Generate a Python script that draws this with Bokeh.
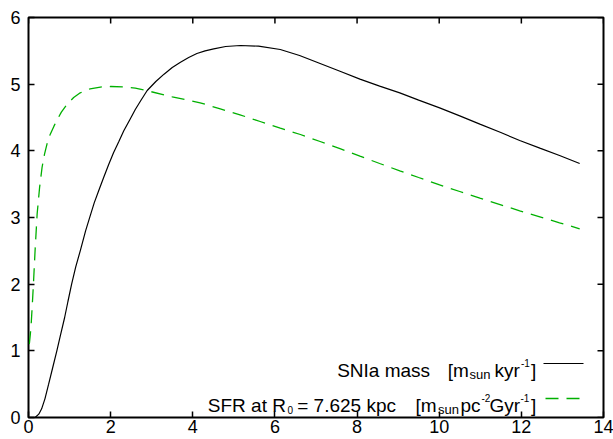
from bokeh.plotting import figure
from bokeh.models import Range1d, LinearAxis, FixedTicker
from bokeh.core.properties import value
from bokeh.embed import file_html
from bokeh.resources import INLINE

# ---------------- data ----------------
snia_x = [0.16, 0.25, 0.32, 0.40, 0.49, 0.59, 0.69, 0.78, 0.88, 0.96, 1.05, 1.15, 1.26, 1.39,
          1.50, 1.60, 1.72, 1.83, 1.95, 2.07, 2.20, 2.32, 2.46, 2.60, 2.75, 2.89, 3.10,
          3.30, 3.50, 3.70, 3.90, 4.10, 4.30, 4.51, 4.80, 5.16, 5.60, 6.13, 6.60,
          7.10, 7.60, 8.07, 8.55, 9.04, 9.50, 10.01, 10.50, 10.99, 11.50, 11.96,
          12.45, 12.93, 13.42]
snia_y = [0.00, 0.05, 0.13, 0.28, 0.50, 0.75, 1.00, 1.24, 1.50, 1.74, 2.00, 2.26, 2.50, 2.80,
          3.02, 3.22, 3.42, 3.60, 3.79, 3.97, 4.14, 4.30, 4.46, 4.62, 4.77, 4.905, 5.04,
          5.15, 5.25, 5.33, 5.40, 5.46, 5.50, 5.53, 5.565, 5.58, 5.57, 5.52, 5.43,
          5.31, 5.19, 5.075, 4.97, 4.87, 4.76, 4.645, 4.525, 4.40, 4.275, 4.155,
          4.04, 3.93, 3.81]

sfr_x = [0.02, 0.045, 0.07, 0.095, 0.12, 0.16, 0.21, 0.27, 0.33, 0.39, 0.45, 0.53, 0.62,
         0.71, 0.80, 0.94, 1.10, 1.26, 1.50, 1.80, 2.00, 2.30, 2.60, 2.90, 3.50, 4.18,
         4.67, 5.15, 5.64, 6.13, 6.62, 7.10, 7.60, 8.07, 8.55, 9.04, 9.50, 10.01, 10.50,
         10.99, 11.50, 11.96, 12.45, 12.93, 13.42]
sfr_y = [1.10, 1.25, 1.45, 1.72, 2.00, 2.50, 3.05, 3.45, 3.75, 3.95, 4.10, 4.25, 4.37,
         4.48, 4.58, 4.70, 4.80, 4.87, 4.93, 4.96, 4.965, 4.96, 4.94, 4.90, 4.81, 4.72,
         4.63, 4.54, 4.44, 4.34, 4.245, 4.14, 4.03, 3.92, 3.81, 3.70, 3.60, 3.49, 3.39,
         3.29, 3.19, 3.10, 3.01, 2.92, 2.83]

x_ticks = [0, 2, 4, 6, 8, 10, 12, 14]
y_ticks = [0, 1, 2, 3, 4, 5, 6]

# ---------------- layout ----------------
FONT = "Liberation Sans"
X_MAX, Y_MAX = 14, 6
FL, FB = 28, 417           # frame left / bottom in page px
FW, FH = 575, 400          # frame size in px
TICK = 6                   # tick length in px

p = figure(width=613, height=439,
           x_range=Range1d(0, X_MAX), y_range=Range1d(0, Y_MAX),
           output_backend="svg", toolbar_location=None,
           min_border_left=28, min_border_right=10, min_border_top=17, min_border_bottom=22,
           x_axis_location=None, y_axis_location=None)
p.xgrid.visible = False
p.ygrid.visible = False
p.outline_line_color = "black"
p.outline_line_width = 2
p.background_fill_color = "white"
p.border_fill_color = "white"


def style_axis(ax, ticks, standoff):
    ax.ticker = FixedTicker(ticks=ticks)
    ax.axis_line_color = None
    ax.major_tick_in = TICK
    ax.major_tick_out = 0
    ax.major_tick_line_color = "black"
    ax.major_tick_line_width = 1.5
    ax.minor_tick_line_color = None
    ax.major_label_text_font = FONT
    ax.major_label_text_font_size = "18px"
    ax.major_label_text_color = "black"
    ax.major_label_standoff = standoff


bottom = LinearAxis()
style_axis(bottom, x_ticks, 2)
p.add_layout(bottom, "below")
left = LinearAxis()
style_axis(left, y_ticks, 8)
p.add_layout(left, "left")

# mirror ticks on the top and right edges
tx = TICK / FW * X_MAX
ty = TICK / FH * Y_MAX
p.segment(x0=x_ticks, y0=[Y_MAX] * len(x_ticks), x1=x_ticks, y1=[Y_MAX - ty] * len(x_ticks),
          line_color="black", line_width=1.5)
p.segment(x0=[X_MAX] * len(y_ticks), y0=y_ticks, x1=[X_MAX - tx] * len(y_ticks), y1=y_ticks,
          line_color="black", line_width=1.5)

# ---------------- curves ----------------
GREEN = "#00b000"
p.line(snia_x, snia_y, line_color="black", line_width=1.2)
p.line(sfr_x, sfr_y, line_color=GREEN, line_width=1.3, line_dash="13 8")

# ---------------- legend (manual, to allow sub/superscripts) ----------------
def dx(px):  # page px -> data x
    return (px - FL) / FW * X_MAX


def dy(py):  # page px (from top) -> data y
    return (FB - py) / FH * Y_MAX


def txt(px, py, s, size):
    p.text(x=[dx(px)], y=[dy(py)], text=[s], text_font=value(FONT),
           text_font_size=size, text_color="black", text_baseline="alphabetic",
           text_align="left")


BIG, SUB, SUP = "19px", "13px", "10px"
# row 1 (baseline at page y 370)
txt(336.7, 370, "SNIa mass", BIG)
txt(447.3, 370, "[m", BIG)
txt(469.0, 374.3, "sun", SUB)
txt(494.0, 370, "kyr", BIG)
txt(520.5, 362, "-1", SUP)
txt(530.5, 370, "]", BIG)
p.line([dx(543), dx(583)], [dy(363), dy(363)], line_color="black", line_width=1.2)

# row 2 (baseline at page y 405)
txt(207.3, 405, "SFR at R", BIG)
txt(287.0, 409.3, "0", SUP)
txt(296.7, 405, "= 7.625 kpc", BIG)
txt(415.0, 405, "[m", BIG)
txt(437.5, 409.3, "sun", SUB)
txt(460.0, 405, "pc", BIG)
txt(481.0, 397.3, "-2", SUP)
txt(489.0, 405, "Gyr", BIG)
txt(520.0, 397.3, "-1", SUP)
txt(530.5, 405, "]", BIG)
p.line([dx(545), dx(583)], [dy(398), dy(398)], line_color=GREEN, line_width=1.3,
       line_dash="13 8")

open("out.html", "w").write(file_html(p, INLINE))
